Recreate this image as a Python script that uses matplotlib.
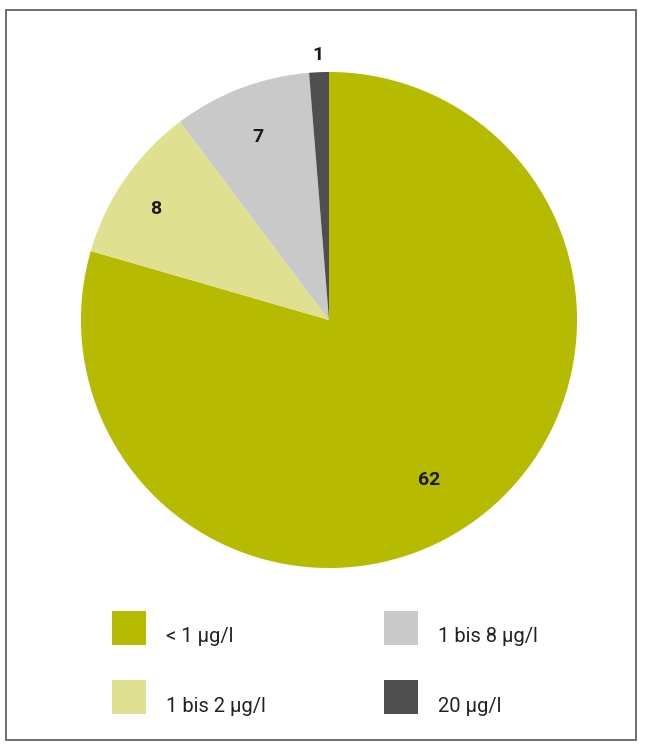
import matplotlib
matplotlib.use("Agg")
import matplotlib.pyplot as plt
from matplotlib.patches import Rectangle
import numpy as np

plt.rcParams['font.family'] = ['Roboto', 'DejaVu Sans']

# number of samples per concentration class
categories = ["< 1 µg/l", "1 bis 2 µg/l", "1 bis 8 µg/l", "20 µg/l"]
counts = [62, 8, 7, 1]
colors = ["#b6ba00", "#dfe190", "#c9c9c9", "#4f4f4f"]

W, H = 645, 749
fig = plt.figure(figsize=(W / 100, H / 100), dpi=100)

# thin frame around the whole graphic
fig.patches.append(Rectangle((6 / W, 1 - 740 / H), 630 / W, 730 / H,
                             transform=fig.transFigure, fill=False,
                             edgecolor="#555555", lw=1.2))

cx, cy, r = 329, 320, 248
ax = fig.add_axes([(cx - r) / W, 1 - (cy + r) / H, 2 * r / W, 2 * r / H])
wedges, _ = ax.pie(counts, colors=colors, startangle=90, counterclock=False,
                   radius=1.0, wedgeprops=dict(linewidth=0))
ax.set_xlim(-1, 1)
ax.set_ylim(-1, 1)
ax.set_aspect("equal")
ax.axis("off")

# value labels near slice mid-angles (radius, angle shift in degrees)
label_r = [0.76, 0.83, 0.79, 1.07]
label_shift = [-5, 2, 0.5, 0]
for w, n, lr, sh in zip(wedges, counts, label_r, label_shift):
    mid = np.deg2rad((w.theta1 + w.theta2) / 2 + sh)
    ax.text(lr * np.cos(mid), lr * np.sin(mid), str(n), ha="center",
            va="center", fontsize=14, fontweight="bold", color="#1a1a1a",
            clip_on=False)

# legend, two columns
pos = [(112, 611), (112, 680), (384, 611), (384, 680)]
for (x, y), lab, c in zip(pos, categories, colors):
    fig.patches.append(Rectangle((x / W, 1 - (y + 34) / H), 34 / W, 34 / H,
                                 transform=fig.transFigure, color=c, lw=0))
    fig.text((x + 54) / W, 1 - (y + 26) / H, lab, ha="left", va="center",
             fontsize=14.5, color="#222222")

fig.savefig("out.png", dpi=100, facecolor="white")
